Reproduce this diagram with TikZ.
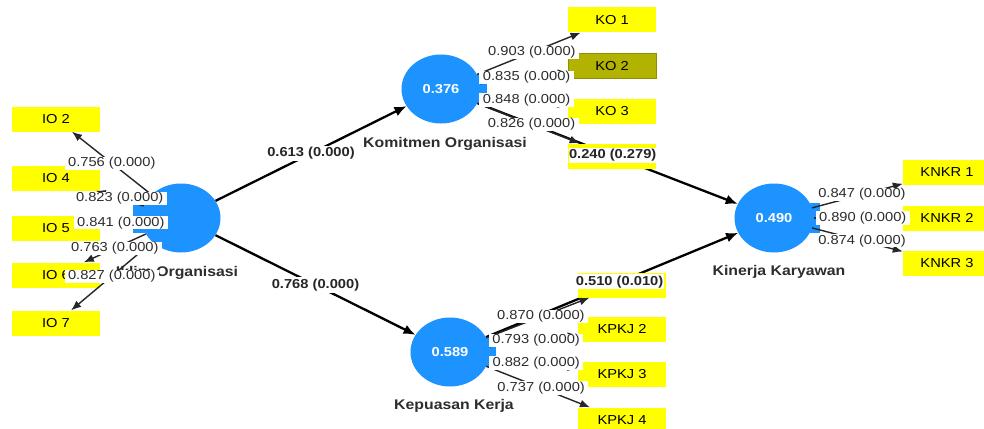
\documentclass[tikz,border=0pt]{standalone}
\usepackage{fontspec}
\setmainfont[FakeStretch=1.13]{Liberation Sans}
\usetikzlibrary{shapes.geometric,arrows.meta}
\pgfdeclarelayer{back}
\pgfsetlayers{back,main}
\definecolor{lvblue}{RGB}{28,147,255}
\definecolor{mvyellow}{RGB}{255,255,0}
\definecolor{mvolive}{RGB}{178,178,0}
\definecolor{txtgray}{RGB}{45,45,45}
\tikzset{
  lv/.style={ellipse,fill=lvblue,minimum width=79pt,minimum height=69pt,inner sep=0pt,
    text=white,font=\fontsize{13}{13}\selectfont\bfseries},
  lvname/.style={anchor=base,text=txtgray,font=\fontsize{14}{14}\selectfont\bfseries},
  mv/.style={rectangle,fill=mvyellow,minimum width=88pt,minimum height=25pt,inner sep=0pt,
    font=\fontsize{13}{13}\selectfont},
  pathline/.style={-{Latex[length=12pt,width=10pt]},line width=2.3pt,black},
  loadline/.style={-{Latex[length=10pt,width=8pt]},line width=1.4pt,black!85},
  loadlbl/.style={fill=white,text=txtgray,inner xsep=3.5pt,inner ysep=0.5pt,
    font=\fontsize{13}{13}\selectfont},
  coeflbl/.style={fill=white,text=black!85,inner xsep=0.5pt,inner ysep=1.5pt,
    font=\fontsize{13}{13}\selectfont\bfseries},
}
\begin{document}
\begin{tikzpicture}[x=1pt,y=-1pt]
    \useasboundingbox (0,0) rectangle (984,428);
    % latent variables
    \node[lv] (IO) at (181,218) {};
    \node[lv] (KM) at (441,89) {0.376};
    \node[lv] (KP) at (450,352) {0.589};
    \node[lv] (KK) at (774,218) {0.490};
    \fill[lvblue] (IO.west) ++(-8,-15) rectangle ++(12,30);
    \fill[lvblue] (KM.east) ++(-4,-15) rectangle ++(10,30);
    \fill[lvblue] (KP.east) ++(-4,-15) rectangle ++(10,30);
    \fill[lvblue] (KK.east) ++(-4,-15) rectangle ++(10,30);
    \node[lvname] (IOname) at (177,276) {Iklim Organisasi};
    \node[lvname] (KMname) at (445,147) {Komitmen Organisasi};
    \node[lvname] (KPname) at (454,409) {Kepuasan Kerja};
    \node[lvname] (KKname) at (779,275) {Kinerja Karyawan};
    % indicators
    \foreach \idx/\y in {2/119,4/178,5/228,6/275,7/323}
        \node[mv] (IO\idx) at (56,\y) {IO \idx};
    \node[mv] (KO1) at (612,20) {KO 1};
    \node[mv,fill=mvolive,draw=mvolive!80!black] (KO2) at (612,66) {KO 2};
    \node[mv] (KO3) at (612,111) {KO 3};
    \node[mv] (KO4) at (612,156) {};
    \node[mv] (KPKJ1) at (622,285) {};
    \foreach \idx/\y in {2/329,3/374,4/420}
        \node[mv] (KPKJ\idx) at (622,\y) {KPKJ \idx};
    \foreach \idx/\y in {1/172,2/218,3/263}
        \node[mv] (KNKR\idx) at (947,\y) {KNKR \idx};
    % inner model
    \begin{pgfonlayer}{back}
        \fill[white] (0,0) rectangle (984,428);
        \draw[pathline] (IO) -- coordinate[pos=0.5] (mIOKM) (KM);
        \draw[pathline] (IO) -- coordinate[pos=0.5] (mIOKP) (KP);
        \draw[pathline] (KM) -- coordinate[pos=0.52] (mKMKK) (KK);
        \draw[pathline] (KP) -- coordinate[pos=0.53] (mKPKK) (KK);
    \end{pgfonlayer}
    % outer model
    \foreach \idx in {2,4,5,6,7}
        \draw[loadline] (IO) -- coordinate[pos=0.5] (mIO\idx) (IO\idx);
    \foreach \idx in {1,...,4}
        \draw[loadline] (KM) -- coordinate[pos=0.53] (mKO\idx) (KO\idx);
    \foreach \idx in {1,...,4}
        \draw[loadline] (KP) -- coordinate[pos=0.53] (mKPKJ\idx) (KPKJ\idx);
    \foreach \idx in {1,...,3}
        \draw[loadline] (KK) -- coordinate[pos=0.55] (mKNKR\idx) (KNKR\idx);
    % loadings
    \foreach \idx/\val in {2/0.756,4/0.823,5/0.841,6/0.763,7/0.827}
        \node[loadlbl] (lIO\idx) at (mIO\idx) {\val{} (0.000)};
    \foreach \idx/\val in {1/0.903,2/0.835,3/0.848,4/0.826}
        \node[loadlbl] (lKO\idx) at (mKO\idx) {\val{} (0.000)};
    \foreach \idx/\val in {1/0.870,2/0.793,3/0.882,4/0.737}
        \node[loadlbl] (lKPKJ\idx) at (mKPKJ\idx) {\val{} (0.000)};
    \foreach \idx/\val in {1/0.847,2/0.890,3/0.874}
        \node[loadlbl] (lKNKR\idx) at (mKNKR\idx) {\val{} (0.000)};
    % path coefficients
    \node[coeflbl] (cIOKM) at (mIOKM) {0.613 (0.000)};
    \node[coeflbl] (cIOKP) at (mIOKP) {0.768 (0.000)};
    \node[coeflbl] (cKMKK) at (mKMKK) {0.240 (0.279)};
    \node[coeflbl] (cKPKK) at (mKPKK) {0.510 (0.010)};
\end{tikzpicture}
\end{document}
